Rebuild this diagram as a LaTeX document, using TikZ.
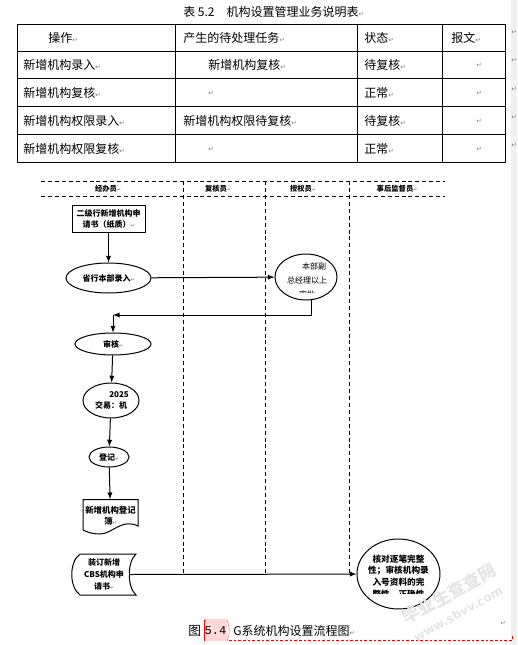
\documentclass[tikz,border=0pt]{standalone}
\usepackage{fontspec}
\setmainfont{Noto Sans CJK SC}
\newfontfamily\symb{DejaVu Sans}
\newfontfamily\mono{Liberation Mono}
\usetikzlibrary{shapes.geometric}
\newcommand{\retour}{{\symb\color{gray}\fontsize{5}{5}\selectfont ↵}}
\newcommand{\pmark}{{\symb\color{gray}\fontsize{3.5}{3.5}\selectfont ↵}}

\begin{document}
\begin{tikzpicture}[x=0.75pt,y=-0.75pt]
    \useasboundingbox (0,0) rectangle (517,645);
    \fill[gray!12] (510.5,0) rectangle (517,645);

    %%%%%%%%%%%%%%%%%%%%%%%%%%%%%%%%%%%%%% Tableau
    \tikzstyle{case}=[anchor=west,inner sep=0pt,font=\fontsize{9}{11}\selectfont]
    \node[case] (titre) at (183,12) {表 5.2\quad 机构设置管理业务说明表\retour};

    \draw[line width=0.75pt] (17,24.3) rectangle (505,162.7);
    \draw[line width=0.75pt] (17,51.7)--(505,51.7);
    \draw[line width=0.75pt] (17,79)--(505,79);
    \draw[line width=0.75pt] (17,107)--(505,107);
    \draw[line width=0.75pt] (17,135)--(505,135);
    \draw[line width=0.75pt] (175.5,24.3)--(175.5,162.7);
    \draw[line width=0.75pt] (357.5,24.3)--(357.5,162.7);
    \draw[line width=0.75pt] (442.5,24.3)--(442.5,162.7);

    \node[case] (c11) at (48,38) {操作\retour};
    \node[case] (c12) at (183,38) {产生的待处理任务\retour};
    \node[case] (c13) at (364,38) {状态\retour};
    \node[case] (c14) at (451,38) {报文\retour};

    \node[case] (c21) at (23,65) {新增机构录入\retour};
    \node[case] (c22) at (208,65) {新增机构复核\retour};
    \node[case] (c23) at (364,65) {待复核\retour};
    \node[case] (c24) at (476,65) {\retour};

    \node[case] (c31) at (23,93) {新增机构复核\retour};
    \node[case] (c32) at (208,93) {\retour};
    \node[case] (c33) at (364,93) {正常\retour};
    \node[case] (c34) at (476,93) {\retour};

    \node[case] (c41) at (23,121) {新增机构权限录入\retour};
    \node[case] (c42) at (183,121) {新增机构权限待复核\retour};
    \node[case] (c43) at (364,121) {待复核\retour};
    \node[case] (c44) at (476,121) {\retour};

    \node[case] (c51) at (23,149) {新增机构权限复核\retour};
    \node[case] (c52) at (208,149) {\retour};
    \node[case] (c53) at (364,149) {正常\retour};
    \node[case] (c54) at (476,149) {\retour};

    \node[case] (f1) at (511,32) {\retour};
    \node[case] (f2) at (511,60) {\retour};
    \node[case] (f3) at (511,89) {\retour};
    \node[case] (f4) at (511,117) {\retour};
    \node[case] (f5) at (511,145) {\retour};

    %%%%%%%%%%%%%%%%%%%%%%%%%%%%%%%%%%%%%% Couloirs
    \tikzstyle{couloir}=[dash pattern=on 3pt off 2.2pt,line width=0.7pt]
    \tikzstyle{entete}=[inner sep=0pt,font=\bfseries\fontsize{5.5}{6}\selectfont]
    \draw[couloir] (41,181)--(445,181);
    \draw[couloir] (41,196)--(445,196);
    \draw[couloir] (183,181)--(183,573);
    \draw[couloir] (265,181)--(265,573);
    \draw[couloir] (349.5,181)--(349.5,573);

    \node[entete] (l1) at (108,188.5) {经办员\pmark};
    \node[entete] (l2) at (218,188.5) {复核员\pmark};
    \node[entete] (l3) at (303,188.5) {授权员\pmark};
    \node[entete] (l4) at (397,188.5) {事后监督员\pmark};

    %%%%%%%%%%%%%%%%%%%%%%%%%%%%%%%%%%%%%% Etapes
    \tikzstyle{petit}=[inner sep=0pt,align=center,font=\bfseries\fontsize{6}{8}\selectfont]
    \tikzstyle{ovale}=[ellipse,draw,line width=0.75pt,inner sep=0pt,petit]
    \tikzstyle{fleche}=[-latex,line width=0.75pt]

    \node[draw,line width=0.75pt,petit,minimum width=54.75pt,minimum height=19.5pt] (dem) at (108.5,219) {二级行新增机构申\\请书（纸质）\pmark};
    \node[ovale,minimum width=63.75pt,minimum height=22.5pt] (saisie) at (108.5,278) {省行本部录入\pmark};
    \node[ovale,minimum width=46.5pt,minimum height=34.5pt] (pj) at (306,277) {};
    \begin{scope}
        \clip (270,250) rectangle (340,292.5);
        \node[petit,font=\fontsize{6}{10.5}\selectfont] (pjt) at (307,280) {\hspace{1.75em}本部副\\总经理以上\\审批};
    \end{scope}
    \node[ovale,minimum width=57pt,minimum height=16.5pt] (sh) at (113,344) {审核\pmark};
    \node[ovale,minimum width=42pt,minimum height=26.25pt] (jy) at (111,400.5) {\hspace{2em}2025\\交易：机};
    \node[ovale,minimum width=30pt,minimum height=15pt] (dj) at (109,457) {登记\pmark};

    \node[petit,font=\bfseries\fontsize{6.3}{8.5}\selectfont,minimum width=41.25pt,minimum height=24.75pt] (djb) at (110.5,516) {新增机构登记\\簿\pmark};
    \draw[line width=0.75pt] (83,499.5)--(138,499.5)--(138,526)
        .. controls (122,518) and (112,534) .. (100,534)
        .. controls (92,534) and (87,532) .. (83,530)--cycle;

    \node[petit,font=\bfseries\fontsize{6}{9}\selectfont,minimum width=37.5pt,minimum height=30.75pt] (zd) at (104,574.5) {装订新增\\CBS机构申\\请书\pmark};
    \draw[line width=0.75pt] (80,554)--(136,554)
        .. controls (127,562) and (127,587) .. (136,595)--(80,595)
        .. controls (69,587) and (69,562) .. (80,554);

    \node[ovale,minimum width=62.25pt,minimum height=52.5pt] (hd) at (398.5,574) {};
    \begin{scope}
        \clip (355,540) rectangle (442,593.5);
        \node[petit,font=\bfseries\fontsize{6.5}{8.75}\selectfont] (hdt) at (398.5,576.5) {核对逐笔完整\\性；审核机构录\\入号资料的完\\整性，正确性};
    \end{scope}

    %%%%%%%%%%%%%%%%%%%%%%%%%%%%%%%%%%%%%% Liaisons
    \coordinate (coin) at (113,315);
    \draw[fleche] (dem)--(saisie);
    \draw[fleche] (saisie)--(pj);
    \draw[fleche] (pj.-76)|-(coin);
    \draw[fleche] (coin)--(sh);
    \draw[fleche] (sh)--(jy);
    \draw[fleche] (jy)--(dj);
    \draw[fleche] (dj)--(djb);
    \draw[fleche] (zd.east)--(hd);

    %%%%%%%%%%%%%%%%%%%%%%%%%%%%%%%%%%%%%% Legende
    \fill[red!15] (204,619) rectangle (227,641);
    \draw[red,thin] (206,620)--(204,620)--(204,641);
    \draw[red!60,thin] (227,620) .. controls (230,626) and (230,635) .. (227,641);
    \draw[red,thin,dash pattern=on 2pt off 1.5pt] (229,640.5)--(512,640.5)--(512,636);
    \node[case,font=\fontsize{9.5}{11}\selectfont] (fig) at (188,631) {图};
    \node[inner sep=0pt,font=\mono\fontsize{9}{9}\selectfont] (num) at (215.5,631) {5.4};
    \node[case] (leg) at (233,631) {G系统机构设置流程图\retour};
    \node[case] (f6) at (500,623) {\retour};

    \node[rotate=29,gray!20,inner sep=0pt,font=\bfseries\fontsize{13}{13}\selectfont] (wm) at (449,594) {毕业生查查网};
    \node[rotate=29,gray!20,inner sep=0pt,font=\symb\bfseries\fontsize{9}{9}\selectfont] (wm2) at (458,614) {www.sbvv.com};
\end{tikzpicture}
\end{document}
